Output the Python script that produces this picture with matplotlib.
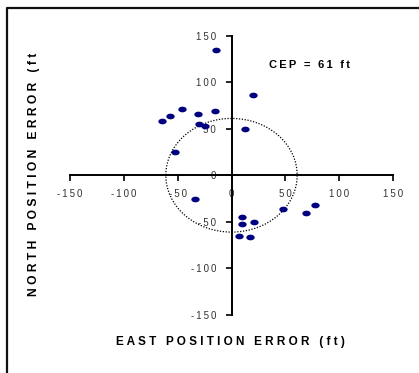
import numpy as np
import matplotlib
matplotlib.use("Agg")
import matplotlib.pyplot as plt
from matplotlib.patches import Circle
from matplotlib.lines import Line2D
from matplotlib.path import Path

plt.rcParams['font.family'] = ['Liberation Sans', 'DejaVu Sans']

# position errors (ft)
east_err = [-14, 20, -65, -57.5, -46, -31, -15, -30, -25, 13, -52.5,
            -34, 10, 10, 21, 48, 69.5, 78, 7, 17]
north_err = [134, 86, 58, 64, 71, 65.5, 68.5, 55, 52.5, 49.5, 24.5,
             -25.5, -45, -52, -50.5, -36, -40, -31.5, -65, -66.5]
cep = 61
ticks = [-150, -100, -50, 0, 50, 100, 150]


def spaced(s, sep='\u2009'):
    # Excel-like letter spacing
    return sep.join(s)


fig = plt.figure(figsize=(4.19, 3.73), dpi=100)
ax = fig.add_axes([70 / 419, 1 - 315 / 373, 323 / 419, 279.5 / 373])

# elliptical markers like the original
t = np.linspace(0, 2 * np.pi, 40)
ell = Path(np.column_stack([np.cos(t), 0.68 * np.sin(t)]), closed=True)
ax.scatter(east_err, north_err, marker=ell, s=36, color='#000080',
           linewidths=0, zorder=3)

ax.add_patch(Circle((0, 0), cep, fill=False, ls=(0, (1, 1.3)), lw=0.9,
                    color='black', zorder=2))

ax.set_xlim(-150, 150)
ax.set_ylim(-150, 150)
ax.set_xticks(ticks)
ax.set_yticks(ticks)
ax.set_xticklabels([spaced(str(v)) for v in ticks])
ax.set_yticklabels([spaced(str(v)) for v in ticks])

for side in ('top', 'right'):
    ax.spines[side].set_visible(False)
for side in ('left', 'bottom'):
    ax.spines[side].set_position(('data', 0))
    ax.spines[side].set_linewidth(1.4)
    ax.spines[side].set_color('black')
ax.tick_params(direction='out', length=4, width=1.2, colors='black',
               labelsize=7, labelcolor='#333333')
ax.tick_params(axis='x', pad=6)
ax.tick_params(axis='y', pad=7)
ax.patch.set_visible(False)

ax.text(0.615, 0.893, spaced('CEP = 61 ft'), transform=ax.transAxes,
        fontsize=8, fontweight='bold', va='center', ha='left')

fig.text(230.5 / 419, 1 - 342 / 373, spaced('EAST POSITION ERROR (ft)', ' '),
         ha='center', va='center', fontsize=8.5, fontweight='bold')
fig.text(34 / 419, 1 - 174 / 373, spaced('NORTH POSITION ERROR (ft', ' '),
         ha='center', va='center', rotation=90, fontsize=8.7,
         fontweight='bold')

# outer frame (only left and top edges visible)
fig.add_artist(Line2D([7 / 419, 7 / 419, 1], [0, 1 - 8 / 373, 1 - 8 / 373],
                      transform=fig.transFigure, color='#111111', lw=1.6))

fig.savefig('out.png', dpi=100)
